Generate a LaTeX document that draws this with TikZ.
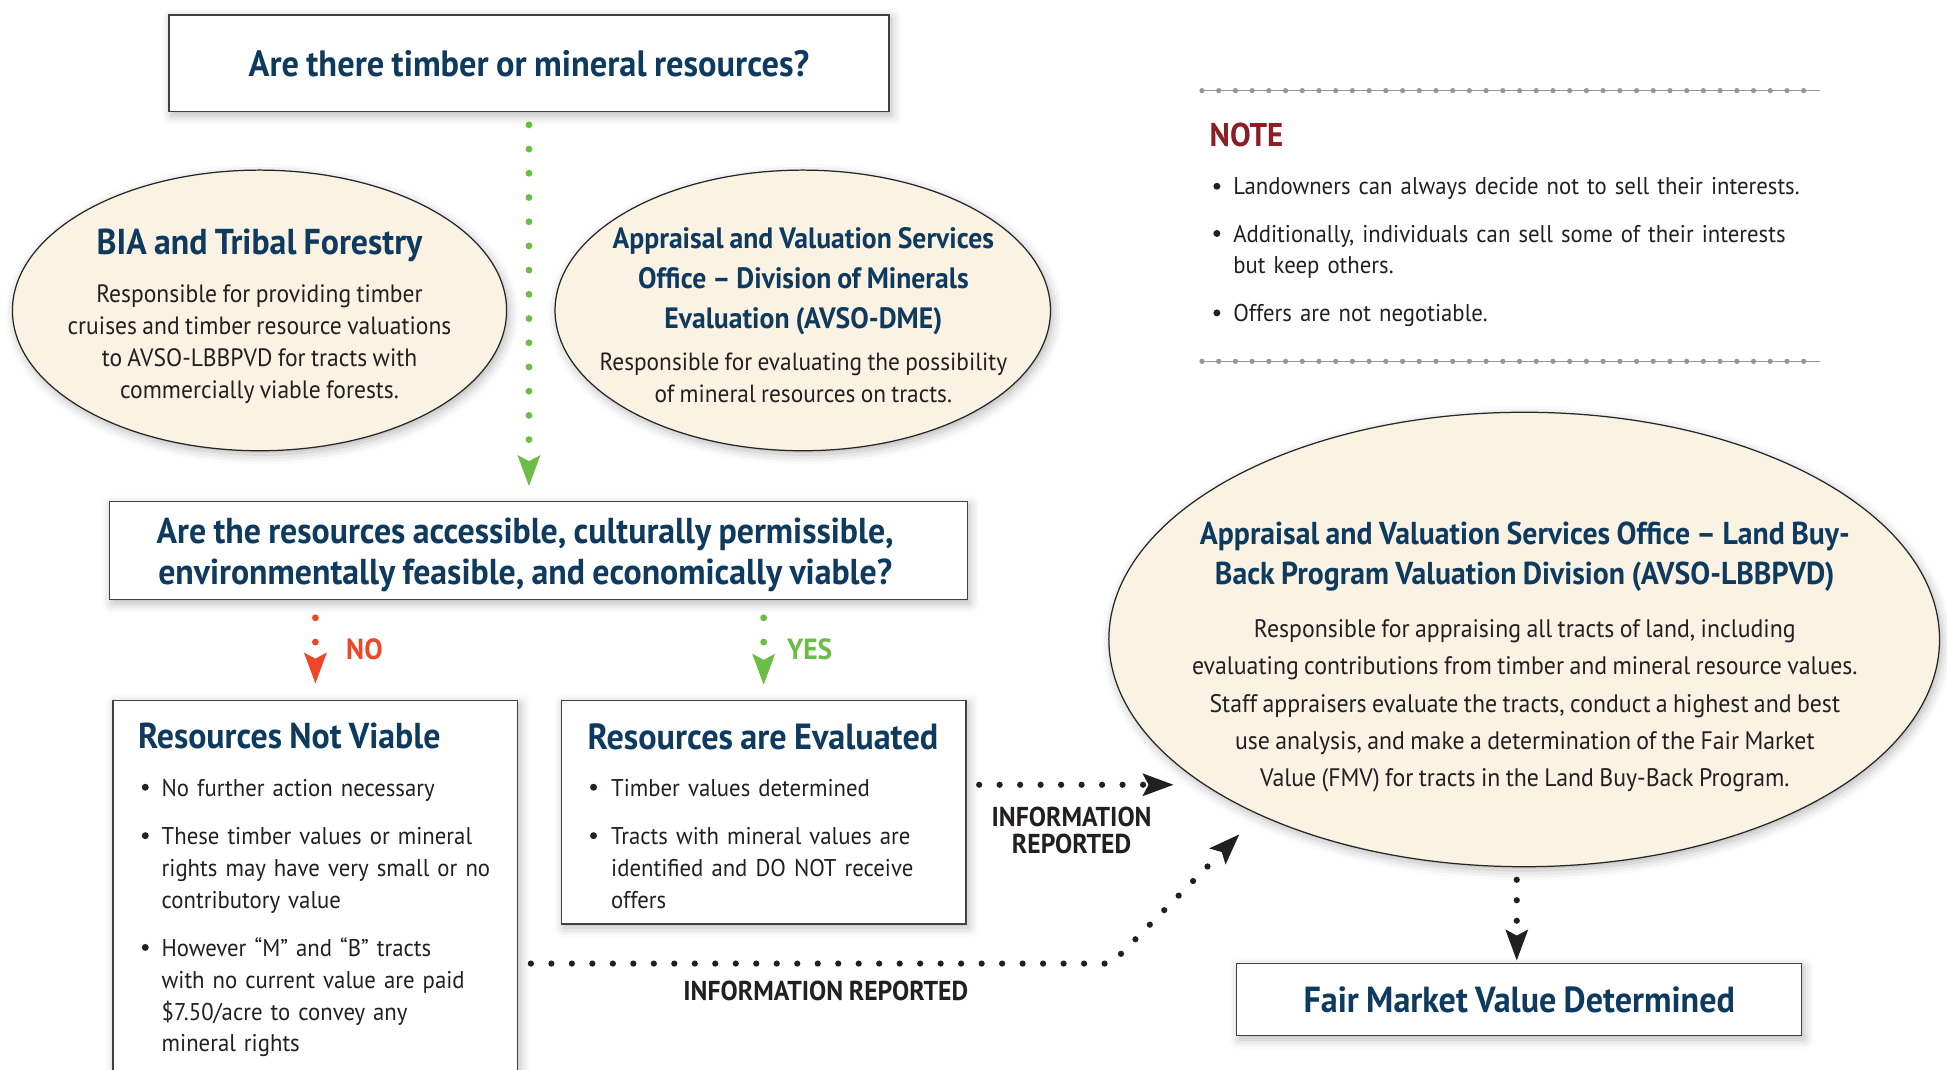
\documentclass[tikz,border=0pt]{standalone}
\usepackage{fontspec}
\setmainfont{PT Sans}[FakeStretch=0.94,WordSpace=0.85]
\usetikzlibrary{shapes.geometric,arrows.meta,shadows.blur,calc}
\definecolor{tblue}{RGB}{13,58,94}
\definecolor{ttext}{RGB}{35,31,32}
\definecolor{cream}{RGB}{250,243,228}
\definecolor{agreen}{RGB}{108,189,69}
\definecolor{ared}{RGB}{236,72,40}
\definecolor{nred}{RGB}{140,29,36}
\definecolor{rulegrey}{RGB}{150,150,150}
\newcommand\myfs[2]{\fontsize{#1}{#2}\selectfont}
\begin{document}
\begin{tikzpicture}[x=1pt,y=-1pt,
  softshadow/.style={blur shadow={shadow xshift=2pt,shadow yshift=-3pt,shadow opacity=28,shadow blur radius=8pt}},
  qbox/.style={rectangle,draw=black!75,line width=1.1pt,fill=white,inner sep=0pt,softshadow},
  oval/.style={ellipse,draw=black!85,line width=1pt,fill=cream,inner sep=0pt,softshadow},
  ttl/.style 2 args={text=tblue,font=\bfseries\myfs{#1}{#2},align=center,inner sep=0pt},
  bodytxt/.style 2 args={text=ttext,font=\myfs{#1}{#2},align=center,inner sep=0pt},
  item/.style={text=ttext,font=\myfs{19.5}{25.5},text width=560pt,align=left,anchor=base west,inner sep=0pt},
  lbl/.style={text=ttext,font=\bfseries\myfs{22}{22},align=center,inner sep=0pt},
  tip/.style={-{Stealth[length=25pt,width=18.5pt,inset=5pt,line width=0pt]}},
  gdots/.style={draw=agreen,line width=5.5pt,line cap=round,dash pattern=on 0pt off 19.5pt,tip},
  rdots/.style={gdots,draw=ared},
  kdots/.style={draw=ttext,line width=5pt,line cap=round,dash pattern=on 0pt off 16.5pt,tip},
  bul/.style={fill=ttext}
]
\useasboundingbox (0,0) rectangle (1568,861);

% top question
\node[qbox,minimum width=580pt,minimum height=78pt,text=tblue,font=\bfseries\myfs{29.5}{36}] (q1) at (426,51) {Are there timber or mineral resources?};

% BIA ellipse
\node[oval,minimum width=398pt,minimum height=226pt] (bia) at (209,250) {};
\node[ttl={29}{34}] (biat) at (209,197.5) {BIA and Tribal Forestry};
\node[bodytxt={20.2}{25.7}] (biab) at (209,277) {Responsible for providing timber\\cruises and timber resource valuations\\to AVSO-LBBPVD for tracts with\\commercially viable forests.};

% DME ellipse
\node[oval,minimum width=399pt,minimum height=226pt] (dme) at (646.5,250) {};
\node[ttl={23.7}{32}] (dmet) at (647,226.5) {Appraisal and Valuation Services\\Office -- Division of Minerals\\Evaluation (AVSO-DME)};
\node[bodytxt={20}{25.5}] (dmeb) at (647,304.5) {Responsible for evaluating the possibility\\of mineral resources on tracts.};

% second question
\node[qbox,minimum width=691pt,minimum height=79pt] (q2) at (433.5,443.5) {};
\node[ttl={29}{33}] (q2t) at (423,446.5) {Are the resources accessible, culturally permissible,\\environmentally feasible, and economically viable?};

% NO / YES labels
\node[text=ared,font=\bfseries\myfs{23.5}{26},inner sep=0pt] (no) at (293.5,523) {NO};
\node[text=agreen,font=\bfseries\myfs{23.5}{26},inner sep=0pt] (yes) at (652,523) {YES};

% Resources not viable
\node[qbox,minimum width=326pt,minimum height=330pt] (nv) at (254,729) {};
\node[ttl={29}{34},anchor=west] (nvt) at (111,593) {Resources Not Viable};
\node[item] (nv1) at (130,641.5) {No further action necessary};
\node[item] (nv2) at (130,680.5) {These timber values or mineral\\rights may have very small or no\\contributory value};
\node[item] (nv3) at (130,770.5) {However “M” and “B” tracts\\with no current value are paid\\\$7.50/acre to convey any\\mineral rights};
\fill[bul] (117,634) circle (2.8pt) (117,673) circle (2.8pt) (117,763) circle (2.8pt);

% Resources evaluated
\node[qbox,minimum width=326pt,minimum height=180pt] (ev) at (615,654) {};
\node[ttl={29.3}{34},anchor=west] (evt) at (473,593) {Resources are Evaluated};
\node[item] (ev1) at (492,641.5) {Timber values determined};
\node[item] (ev2) at (492,680.5) {Tracts with mineral values are\\identified and DO NOT receive\\offers};
\fill[bul] (478,634) circle (2.8pt) (478,673) circle (2.8pt);

% big ellipse
\node[oval,minimum width=669pt,minimum height=366pt] (big) at (1227.5,515) {};
\node[ttl={25.5}{32}] (bigt) at (1228,448.5) {Appraisal and Valuation Services Office -- Land Buy-\\Back Program Valuation Division (AVSO-LBBPVD)};
\node[bodytxt={20.4}{30}] (bigb) at (1228,568.5) {Responsible for appraising all tracts of land, including\\evaluating contributions from timber and mineral resource values.\\Staff appraisers evaluate the tracts, conduct a highest and best\\use analysis, and make a determination of the Fair Market\\Value (FMV) for tracts in the Land Buy-Back Program.};

% FMV
\node[qbox,minimum width=455pt,minimum height=58pt,text=tblue,font=\bfseries\myfs{29.2}{36}] (fmv) at (1223.5,805) {Fair Market Value Determined};

% NOTE
\draw[rulegrey,line width=1pt] (968,73) -- (1466,73);
\draw[rulegrey,line width=4.2pt,line cap=round,dash pattern=on 0pt off 13.46pt] (968,73) -- (1466,73);
\draw[rulegrey,line width=1pt] (968,291) -- (1466,291);
\draw[rulegrey,line width=4.2pt,line cap=round,dash pattern=on 0pt off 13.46pt] (968,291) -- (1466,291);
\node[anchor=west,text=nred,font=\bfseries\myfs{26.5}{30},inner sep=0pt] (note) at (974,109) {NOTE};
\node[item] (n1) at (993,157) {Landowners can always decide not to sell their interests.};
\node[item] (n2) at (993,195) {Additionally, individuals can sell some of their interests\\but keep others.};
\node[item] (n3) at (993,259) {Offers are not negotiable.};
\fill[bul] (980,150) circle (2.8pt) (980,188) circle (2.8pt) (980,252) circle (2.8pt);

% labels
\node[lbl] (il1) at (863,669) {INFORMATION\\REPORTED};
\node[lbl] (il2) at (665,798) {INFORMATION REPORTED};

% connectors
\coordinate (i1tip) at (945,632);
\coordinate (i2m) at (895,776);
\coordinate (i2tip) at (998,672);
\draw[gdots,shorten <=10pt,shorten >=12pt] (q1.south) -- (q1.south |- q2.north);
\draw[rdots,shorten <=14pt,shorten >=13pt] (nv.north |- q2.south) -- (nv.north);
\draw[gdots,shorten <=14pt,shorten >=12pt] (ev.north |- q2.south) -- (ev.north);
\draw[kdots] ($(ev.east)+(10,-22)$) -- (i1tip);
\draw[kdots] ($(nv.east)+(10,47)$) -- (i2m) -- (i2tip);
\draw[kdots,shorten <=10pt,shorten >=2pt] ($(big.south)+(-6,0)$) -- ($(big.south |- fmv.north)+(-6,0)$);
\end{tikzpicture}
\end{document}
